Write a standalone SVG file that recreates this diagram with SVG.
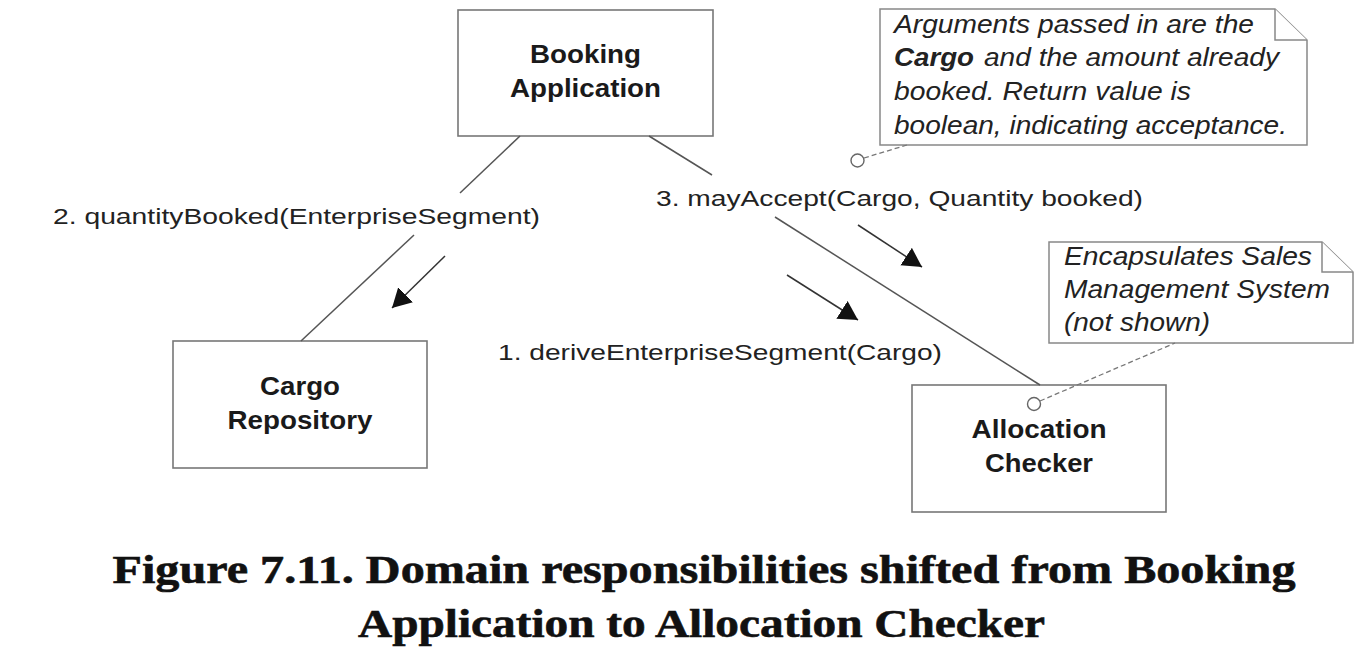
<svg xmlns="http://www.w3.org/2000/svg" width="1372" height="662" viewBox="0 0 1372 662">
<defs>
<marker id="ah" markerUnits="userSpaceOnUse" markerWidth="20" markerHeight="22" refX="19" refY="10.5" orient="auto" viewBox="0 0 20 22"><path d="M0,0 L19,10.5 L0,21 z" fill="#111"/></marker>
</defs>
<style>
.box{fill:#fff;stroke:#777;stroke-width:1.6}
.note{fill:#fff;stroke:#888;stroke-width:1.5;stroke-linejoin:miter}
.link{stroke:#555;stroke-width:1.5;fill:none}
.msg{stroke:#333;stroke-width:1.5;fill:none;marker-end:url(#ah)}
.anchor{stroke:#777;stroke-width:1.3;stroke-dasharray:5 3;fill:none}
.pin{fill:#fff;stroke:#666;stroke-width:1.4}
.name{font-family:"Liberation Sans",Arial,sans-serif;font-weight:bold;font-size:26px;fill:#1a1a1a;text-anchor:middle}
.lbl{font-family:"Liberation Sans",Arial,sans-serif;font-size:22px;fill:#222}
.ntxt{font-family:"Liberation Sans",Arial,sans-serif;font-style:italic;font-size:25px;fill:#222}
.title{font-family:"Liberation Serif","Times New Roman",serif;font-weight:bold;font-size:40px;fill:#111;stroke:#111;stroke-width:0.6;text-anchor:middle}
</style>
<rect width="1372" height="662" fill="#fff"/>

<g id="booking-application">
  <rect class="box" x="458" y="10" width="255" height="126"/>
  <text class="name" x="585.5" y="63" textLength="111" lengthAdjust="spacingAndGlyphs">Booking</text>
  <text class="name" x="585.5" y="97" textLength="151" lengthAdjust="spacingAndGlyphs">Application</text>
</g>

<g id="cargo-repository">
  <rect class="box" x="173" y="341" width="254" height="127"/>
  <text class="name" x="300" y="395" textLength="80" lengthAdjust="spacingAndGlyphs">Cargo</text>
  <text class="name" x="300" y="429" textLength="145" lengthAdjust="spacingAndGlyphs">Repository</text>
</g>

<g id="allocation-checker">
  <rect class="box" x="912" y="385" width="254" height="127"/>
  <text class="name" x="1039" y="438" textLength="135" lengthAdjust="spacingAndGlyphs">Allocation</text>
  <text class="name" x="1039" y="472" textLength="108" lengthAdjust="spacingAndGlyphs">Checker</text>
</g>

<g id="note-arguments">
  <path class="note" d="M880,9 H1275 L1307,40 V145 H880 Z"/>
  <path class="note" d="M1275,9 V40 H1307" fill="none"/>
  <text class="ntxt" x="894" y="33" textLength="360" lengthAdjust="spacingAndGlyphs">Arguments passed in are the</text>
  <text class="ntxt" x="894" y="66" textLength="80" lengthAdjust="spacingAndGlyphs" font-weight="bold" font-style="normal">Cargo</text>
  <text class="ntxt" x="984" y="66" textLength="295" lengthAdjust="spacingAndGlyphs">and the amount already</text>
  <text class="ntxt" x="894" y="100" textLength="297" lengthAdjust="spacingAndGlyphs">booked. Return value is</text>
  <text class="ntxt" x="894" y="134" textLength="393" lengthAdjust="spacingAndGlyphs">boolean, indicating acceptance.</text>
</g>

<g id="note-sales">
  <path class="note" d="M1049,242 H1322 L1353,272 V343 H1049 Z"/>
  <path class="note" d="M1322,242 V272 H1353" fill="none"/>
  <text class="ntxt" x="1064" y="265" textLength="248" lengthAdjust="spacingAndGlyphs">Encapsulates Sales</text>
  <text class="ntxt" x="1064" y="298" textLength="266" lengthAdjust="spacingAndGlyphs">Management System</text>
  <text class="ntxt" x="1064" y="331" textLength="146" lengthAdjust="spacingAndGlyphs">(not shown)</text>
</g>

<g id="connectors">
  <line class="link" x1="520" y1="136" x2="460" y2="193"/>
  <line class="link" x1="414" y1="235" x2="301" y2="341"/>
  <line class="link" x1="649" y1="136" x2="712" y2="175"/>
  <line class="link" x1="775" y1="217" x2="1040" y2="385"/>
  <line class="msg" x1="445" y1="256" x2="392" y2="308"/>
  <line class="msg" x1="858" y1="225" x2="922" y2="267"/>
  <line class="msg" x1="787" y1="275" x2="858" y2="320"/>
  <line class="anchor" x1="864" y1="158" x2="907" y2="145"/>
  <line class="anchor" x1="1040" y1="401" x2="1175" y2="343"/>
  <circle class="pin" cx="857.5" cy="160.5" r="6.5"/>
  <circle class="pin" cx="1034" cy="404" r="6.5"/>
  <text class="lbl" x="53" y="224" textLength="487" lengthAdjust="spacingAndGlyphs">2. quantityBooked(EnterpriseSegment)</text>
  <text class="lbl" x="656" y="206" textLength="487" lengthAdjust="spacingAndGlyphs">3. mayAccept(Cargo, Quantity booked)</text>
  <text class="lbl" x="498" y="360" textLength="444" lengthAdjust="spacingAndGlyphs">1. deriveEnterpriseSegment(Cargo)</text>
</g>

<g id="caption">
  <text class="title" x="704" y="583" textLength="1183" lengthAdjust="spacingAndGlyphs">Figure 7.11. Domain responsibilities shifted from Booking</text>
  <text class="title" x="701.5" y="637" textLength="687" lengthAdjust="spacingAndGlyphs">Application to Allocation Checker</text>
</g>
</svg>
